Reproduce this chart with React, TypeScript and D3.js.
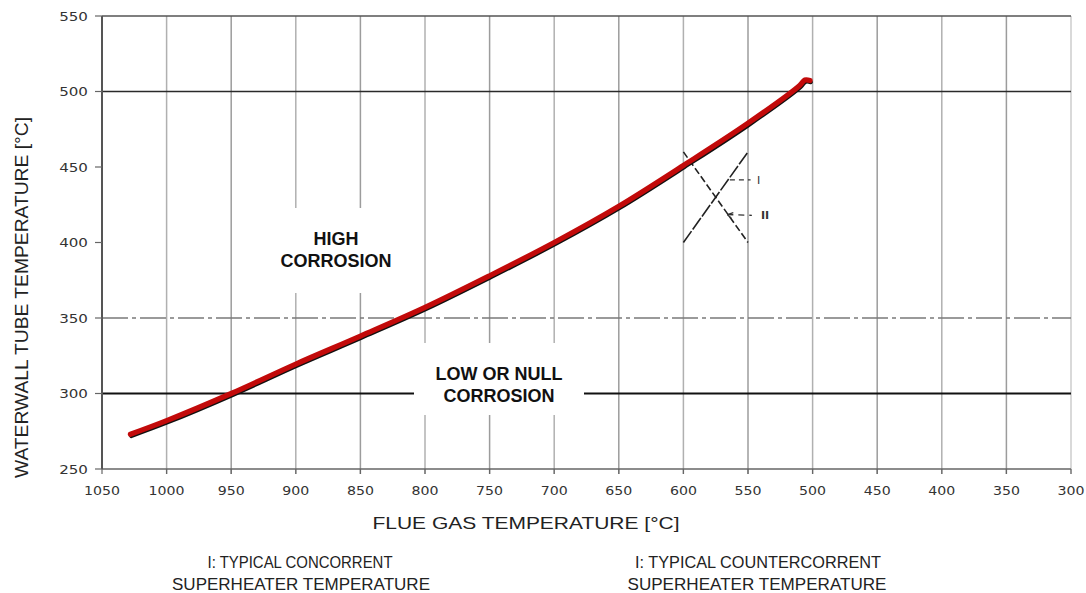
import React from "react";
import * as d3 from "d3";

// ---- data ----
const xTicks = [1050, 1000, 950, 900, 850, 800, 750, 700, 650, 600, 550, 500, 450, 400, 350, 300];
const yTicks = [250, 300, 350, 400, 450, 500, 550];
const gridHLevels = [500, 350, 300];

// red curve: flue gas temp (x) vs waterwall tube temperature (y)
const curveGas = [1028, 1000, 950, 900, 850, 800, 750, 700, 650, 600, 550, 510, 506, 502];
const curveWall = [273, 282, 300, 319.5, 338, 357, 378, 400, 424, 451, 479, 504, 507.6, 507.3];

// X mark (I: ascending, II: descending)
const lineIGas = [600, 550];
const lineIWall = [400, 460];
const lineIIGas = [600, 550];
const lineIIWall = [460, 400];
const leaderIGas = [564, 548];
const leaderIWall = [441.5, 441.5];
const leaderIIGas = [566, 547];
const leaderIIWall = [418.5, 418];
const labelI = { gas: 543, wall: 441.5, text: "I" };
const labelII = { gas: 540, wall: 418, text: "II" };

const highLabel = ["HIGH", "CORROSION"];
const lowLabel = ["LOW OR NULL", "CORROSION"];
const xTitle = "FLUE GAS TEMPERATURE [°C]";
const yTitle = "WATERWALL TUBE TEMPERATURE [°C]";
const noteLeft = ["I: TYPICAL CONCORRENT", "SUPERHEATER TEMPERATURE"];
const noteRight = ["I: TYPICAL COUNTERCORRENT", "SUPERHEATER TEMPERATURE"];

export default function App() {
  const W = 1086;
  const H = 593;
  const left = 102, right = 1071, top = 16, bottom = 469;
  const x = d3.scaleLinear().domain([1050, 300]).range([left, right]);
  const y = d3.scaleLinear().domain([250, 550]).range([bottom, top]);

  const pts: [number, number][] = curveGas.map((g, i) => [x(g), y(curveWall[i])]);
  const line = d3.line().curve(d3.curveCatmullRom.alpha(0.5));
  const curvePath = line(pts) || "";

  const font = "'Liberation Sans', Arial, sans-serif";
  const tickFont = "'DejaVu Sans', sans-serif";

  const hStyle = (v: number) => {
    if (v === 500) return { stroke: "#2a2a2a", strokeWidth: 1.6 };
    if (v === 350) return { stroke: "#7a7a7a", strokeWidth: 1.5, strokeDasharray: "26 4 4 4" };
    return { stroke: "#111", strokeWidth: 2 };
  };

  return (
    <svg width={W} height={H} style={{ position: "absolute", left: 0, top: 0, background: "#fff" }}
      fontFamily={font}>
      <rect x={0} y={0} width={W} height={H} fill="#fff" />
      {/* vertical grid */}
      {xTicks.filter((t) => t !== 1050).map((t, i) => (
        <line key={"v" + t} x1={x(t)} x2={x(t)} y1={top} y2={bottom + 5}
          stroke={t === 300 ? "#cccccc" : i % 2 === 0 ? "#b0b0b0" : "#9c9c9c"} strokeWidth={1.5} />
      ))}
      {/* horizontal grid */}
      {gridHLevels.map((v) => (
        <line key={"h" + v} x1={left} x2={right} y1={y(v)} y2={y(v)} {...hStyle(v)} />
      ))}
      {/* frame */}
      <line x1={left} x2={right} y1={y(550)} y2={y(550)} stroke="#555" strokeWidth={1.5} />
      <line x1={left} x2={right} y1={y(250)} y2={y(250)} stroke="#666" strokeWidth={1.5} />
      <line x1={left} x2={left} y1={top} y2={bottom} stroke="#555" strokeWidth={2} />
      {/* y ticks */}
      {yTicks.map((t) => (
        <g key={"yt" + t}>
          <line x1={left - 7} x2={left} y1={y(t)} y2={y(t)} stroke="#666" strokeWidth={1.2} />
          <text x={88} y={y(t)} dy="0.36em" textAnchor="end" fontFamily={tickFont} fontSize={13}
            fill="#333" textLength={String(t).length * 9.6} lengthAdjust="spacingAndGlyphs">{t}</text>
        </g>
      ))}
      {/* x ticks */}
      {xTicks.map((t) => (
        <g key={"xt" + t}>
          <line x1={x(t)} x2={x(t)} y1={bottom} y2={bottom + 5} stroke="#666" strokeWidth={1.2} />
          <text x={x(t)} y={495} textAnchor="middle" fontFamily={tickFont} fontSize={13}
            fill="#333" textLength={String(t).length * 9} lengthAdjust="spacingAndGlyphs">{t}</text>
        </g>
      ))}
      {/* white boxes behind region labels */}
      <rect x={265} y={208} width={145} height={85} fill="#fff" />
      <rect x={414} y={343} width={170} height={72} fill="#fff" />
      {/* region labels */}
      <text x={336} y={245} textAnchor="middle" fontWeight="bold" fontSize={18} fill="#111">{highLabel[0]}</text>
      <text x={336} y={267} textAnchor="middle" fontWeight="bold" fontSize={18} fill="#111">{highLabel[1]}</text>
      <text x={499} y={380} textAnchor="middle" fontWeight="bold" fontSize={18} fill="#111">{lowLabel[0]}</text>
      <text x={499} y={402} textAnchor="middle" fontWeight="bold" fontSize={18} fill="#111">{lowLabel[1]}</text>
      {/* X mark */}
      <line x1={x(lineIGas[0])} y1={y(lineIWall[0])} x2={x(lineIGas[1])} y2={y(lineIWall[1])}
        stroke="#222" strokeWidth={1.6} strokeDasharray="14 2" />
      <line x1={x(lineIIGas[0])} y1={y(lineIIWall[0])} x2={x(lineIIGas[1])} y2={y(lineIIWall[1])}
        stroke="#222" strokeWidth={1.6} strokeDasharray="7 3" />
      <line x1={x(leaderIGas[0])} y1={y(leaderIWall[0])} x2={x(leaderIGas[1])} y2={y(leaderIWall[1])}
        stroke="#333" strokeWidth={1.3} strokeDasharray="5 4" />
      <line x1={x(leaderIIGas[0])} y1={y(leaderIIWall[0])} x2={x(leaderIIGas[1])} y2={y(leaderIIWall[1])}
        stroke="#333" strokeWidth={1.3} strokeDasharray="6 5" />
      <path d={`M${x(leaderIIGas[0])},${y(leaderIIWall[0])} l6,-2 M${x(leaderIIGas[0])},${y(leaderIIWall[0])} l4,4`}
        stroke="#333" strokeWidth={1.3} fill="none" />
      <text x={x(labelI.gas)} y={y(labelI.wall)} dy="0.35em" fontSize={11} fill="#333" fontFamily={tickFont}>{labelI.text}</text>
      <text x={x(labelII.gas)} y={y(labelII.wall)} dy="0.35em" fontSize={11} fill="#333" fontFamily={tickFont} fontWeight="bold">{labelII.text}</text>
      {/* curve */}
      <path d={curvePath} transform="translate(0.8,1.8)" fill="none" stroke="#111" strokeWidth={4}
        strokeLinecap="round" strokeLinejoin="round" />
      <path d={curvePath} fill="none" stroke="#c20a0a" strokeWidth={5.2}
        strokeLinecap="round" strokeLinejoin="round" />
      {/* titles */}
      <text x={526} y={529} textAnchor="middle" fontSize={17} fill="#222"
        textLength={307} lengthAdjust="spacingAndGlyphs">{xTitle}</text>
      <text transform="translate(28,297.5) rotate(-90)" textAnchor="middle" fontSize={18} fill="#222"
        textLength={361} lengthAdjust="spacingAndGlyphs">{yTitle}</text>
      <text x={300} y={568} textAnchor="middle" fontSize={17} fill="#222" textLength={185} lengthAdjust="spacingAndGlyphs">{noteLeft[0]}</text>
      <text x={301} y={590} textAnchor="middle" fontSize={17} fill="#222" textLength={258} lengthAdjust="spacingAndGlyphs">{noteLeft[1]}</text>
      <text x={758} y={568} textAnchor="middle" fontSize={17} fill="#222" textLength={246} lengthAdjust="spacingAndGlyphs">{noteRight[0]}</text>
      <text x={757} y={590} textAnchor="middle" fontSize={17} fill="#222" textLength={259} lengthAdjust="spacingAndGlyphs">{noteRight[1]}</text>
    </svg>
  );
}
